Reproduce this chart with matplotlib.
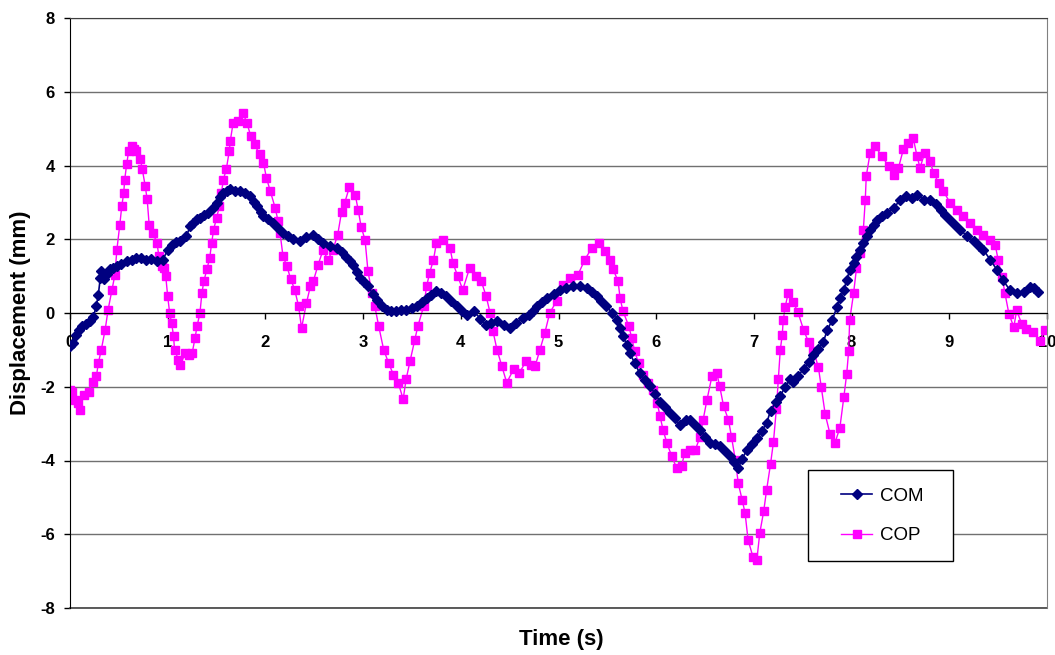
import numpy as np
import matplotlib
matplotlib.use("Agg")
import matplotlib.pyplot as plt
from matplotlib.patches import Rectangle

plt.rcParams['font.family'] = ['Liberation Sans', 'DejaVu Sans']
plt.rcParams['axes.unicode_minus'] = False

# COM trace (time in s, displacement in mm)
com_t = [0.00, 0.03, 0.06, 0.09, 0.12, 0.16, 0.20, 0.24, 0.27, 0.29, 0.31, 0.32, 0.35, 0.38, 0.41,
         0.44, 0.48, 0.52, 0.58, 0.63, 0.68, 0.73, 0.78, 0.83, 0.89, 0.95, 1.00, 1.04, 1.09, 1.13,
         1.19, 1.23, 1.26, 1.30, 1.33, 1.37, 1.41, 1.46, 1.50, 1.54, 1.57, 1.61, 1.64, 1.69, 1.74,
         1.79, 1.84, 1.88, 1.91, 1.95, 1.98, 2.03, 2.08, 2.13, 2.18, 2.23, 2.28, 2.35, 2.42, 2.49,
         2.54, 2.59, 2.66, 2.73, 2.78, 2.83, 2.87, 2.90, 2.94, 2.97, 3.01, 3.05, 3.10, 3.14, 3.19,
         3.24, 3.29, 3.34, 3.39, 3.44, 3.50, 3.55, 3.60, 3.65, 3.70, 3.75, 3.80, 3.85, 3.90, 3.96,
         4.01, 4.06, 4.13, 4.20, 4.26, 4.31, 4.37, 4.44, 4.50, 4.57, 4.64, 4.70, 4.74, 4.78, 4.83,
         4.88, 4.95, 5.02, 5.08, 5.15, 5.22, 5.29, 5.34, 5.39, 5.44, 5.49, 5.55, 5.60, 5.63, 5.66,
         5.70, 5.73, 5.78, 5.83, 5.89, 5.94, 5.99, 6.04, 6.09, 6.14, 6.19, 6.24, 6.30, 6.35, 6.40,
         6.45, 6.50, 6.55, 6.60, 6.65, 6.70, 6.76, 6.80, 6.84, 6.88, 6.93, 6.98, 7.03, 7.08, 7.13,
         7.17, 7.23, 7.27, 7.32, 7.37, 7.40, 7.45, 7.51, 7.56, 7.61, 7.66, 7.71, 7.75, 7.80, 7.85,
         7.88, 7.92, 7.95, 7.98, 8.02, 8.05, 8.09, 8.12, 8.16, 8.19, 8.23, 8.26, 8.31, 8.36, 8.43,
         8.50, 8.56, 8.62, 8.67, 8.74, 8.80, 8.86, 8.91, 8.96, 9.01, 9.06, 9.11, 9.18, 9.25, 9.30,
         9.35, 9.42, 9.49, 9.55, 9.62, 9.69, 9.76, 9.83, 9.87, 9.91]
com_v = [-0.90, -0.80, -0.60, -0.45, -0.36, -0.30, -0.22, -0.10, 0.20, 0.50, 0.95, 1.13, 0.92, 1.05, 1.18,
         1.22, 1.28, 1.33, 1.40, 1.45, 1.50, 1.48, 1.45, 1.47, 1.40, 1.45, 1.70, 1.85, 1.92, 1.95,
         2.08, 2.35, 2.45, 2.55, 2.58, 2.65, 2.72, 2.85, 2.99, 3.15, 3.26, 3.32, 3.35, 3.32, 3.30,
         3.25, 3.17, 3.02, 2.90, 2.75, 2.63, 2.55, 2.45, 2.30, 2.17, 2.08, 2.00, 1.96, 2.05, 2.12,
         2.00, 1.89, 1.82, 1.76, 1.65, 1.53, 1.42, 1.31, 1.10, 0.95, 0.83, 0.72, 0.52, 0.36, 0.20,
         0.09, 0.06, 0.05, 0.07, 0.09, 0.13, 0.18, 0.30, 0.41, 0.50, 0.59, 0.53, 0.45, 0.32, 0.18,
         0.05, -0.05, 0.05, -0.15, -0.32, -0.28, -0.23, -0.32, -0.41, -0.28, -0.14, -0.05, 0.05, 0.18, 0.30,
         0.41, 0.52, 0.63, 0.68, 0.72, 0.72, 0.68, 0.58, 0.45, 0.32, 0.18, 0.00, -0.18, -0.40, -0.63,
         -0.86, -1.09, -1.36, -1.63, -1.82, -1.99, -2.20, -2.40, -2.55, -2.71, -2.85, -3.03, -2.90, -2.90, -3.05,
         -3.17, -3.35, -3.53, -3.55, -3.62, -3.75, -3.89, -4.05, -4.21, -3.95, -3.71, -3.55, -3.39, -3.20, -2.99,
         -2.65, -2.40, -2.25, -2.00, -1.79, -1.88, -1.70, -1.52, -1.33, -1.15, -0.97, -0.79, -0.47, -0.20, 0.16,
         0.40, 0.62, 0.90, 1.16, 1.35, 1.53, 1.72, 1.89, 2.10, 2.25, 2.40, 2.53, 2.62, 2.71, 2.85,
         3.07, 3.16, 3.12, 3.21, 3.07, 3.07, 2.95, 2.80, 2.66, 2.53, 2.40, 2.25, 2.10, 1.94, 1.82,
         1.71, 1.44, 1.16, 0.89, 0.62, 0.53, 0.57, 0.71, 0.68, 0.57]

# COP trace
cop_t = [0.00, 0.02, 0.05, 0.08, 0.10, 0.14, 0.19, 0.24, 0.27, 0.29, 0.32, 0.36, 0.39, 0.43, 0.46,
         0.48, 0.51, 0.53, 0.55, 0.56, 0.58, 0.60, 0.63, 0.66, 0.68, 0.72, 0.74, 0.77, 0.79, 0.81,
         0.85, 0.89, 0.91, 0.94, 0.96, 0.98, 1.00, 1.02, 1.04, 1.06, 1.07, 1.11, 1.13, 1.18, 1.22,
         1.25, 1.28, 1.30, 1.33, 1.35, 1.37, 1.40, 1.43, 1.45, 1.47, 1.50, 1.53, 1.55, 1.57, 1.60,
         1.63, 1.64, 1.67, 1.72, 1.77, 1.81, 1.85, 1.89, 1.94, 1.98, 2.01, 2.05, 2.10, 2.13, 2.15,
         2.18, 2.22, 2.26, 2.30, 2.34, 2.37, 2.42, 2.46, 2.49, 2.54, 2.59, 2.64, 2.69, 2.74, 2.78,
         2.81, 2.86, 2.92, 2.95, 2.98, 3.02, 3.05, 3.09, 3.12, 3.16, 3.21, 3.26, 3.31, 3.36, 3.41,
         3.44, 3.48, 3.53, 3.56, 3.62, 3.65, 3.68, 3.72, 3.75, 3.82, 3.89, 3.92, 3.97, 4.02, 4.09,
         4.16, 4.21, 4.26, 4.30, 4.33, 4.37, 4.42, 4.47, 4.54, 4.60, 4.67, 4.72, 4.76, 4.81, 4.86,
         4.91, 4.98, 5.05, 5.12, 5.20, 5.27, 5.34, 5.41, 5.48, 5.53, 5.56, 5.61, 5.63, 5.66, 5.72,
         5.75, 5.78, 5.82, 5.87, 5.92, 5.97, 6.01, 6.04, 6.07, 6.11, 6.16, 6.21, 6.26, 6.29, 6.35,
         6.40, 6.45, 6.48, 6.52, 6.57, 6.62, 6.65, 6.69, 6.74, 6.77, 6.81, 6.84, 6.88, 6.91, 6.94,
         6.99, 7.03, 7.06, 7.10, 7.13, 7.17, 7.20, 7.23, 7.25, 7.27, 7.29, 7.30, 7.32, 7.35, 7.40,
         7.45, 7.51, 7.56, 7.61, 7.66, 7.69, 7.73, 7.78, 7.83, 7.88, 7.92, 7.95, 7.97, 7.98, 8.02,
         8.05, 8.09, 8.12, 8.14, 8.15, 8.19, 8.24, 8.31, 8.38, 8.43, 8.48, 8.53, 8.58, 8.63, 8.67,
         8.70, 8.75, 8.80, 8.84, 8.89, 8.94, 9.01, 9.08, 9.14, 9.21, 9.28, 9.35, 9.42, 9.47, 9.50,
         9.54, 9.57, 9.61, 9.66, 9.69, 9.74, 9.79, 9.86, 9.93, 9.98]
cop_v = [-2.10, -2.13, -2.36, -2.45, -2.63, -2.22, -2.13, -1.86, -1.72, -1.36, -1.00, -0.45, 0.09, 0.63, 1.04,
         1.72, 2.40, 2.90, 3.26, 3.62, 4.03, 4.39, 4.53, 4.45, 4.39, 4.17, 3.90, 3.44, 3.08, 2.40,
         2.17, 1.90, 1.54, 1.27, 1.22, 1.00, 0.45, 0.00, -0.27, -0.63, -1.00, -1.27, -1.40, -1.09, -1.15,
         -1.09, -0.68, -0.36, 0.00, 0.54, 0.86, 1.18, 1.49, 1.90, 2.26, 2.58, 2.90, 3.26, 3.62, 3.90,
         4.39, 4.66, 5.16, 5.21, 5.43, 5.16, 4.80, 4.57, 4.30, 4.08, 3.67, 3.31, 2.85, 2.49, 2.17,
         1.54, 1.27, 0.91, 0.63, 0.18, -0.41, 0.27, 0.72, 0.86, 1.31, 1.71, 1.44, 1.71, 2.12, 2.75,
         2.97, 3.42, 3.20, 2.79, 2.34, 1.98, 1.13, 0.54, 0.18, -0.36, -0.99, -1.35, -1.67, -1.89, -2.34,
         -1.80, -1.31, -0.72, -0.36, 0.18, 0.72, 1.08, 1.44, 1.89, 1.98, 1.76, 1.35, 0.99, 0.63, 1.22,
         0.99, 0.86, 0.45, 0.00, -0.50, -0.99, -1.44, -1.89, -1.53, -1.62, -1.30, -1.40, -1.45, -1.00, -0.54,
         0.00, 0.32, 0.77, 0.95, 1.04, 1.45, 1.76, 1.90, 1.67, 1.45, 1.18, 0.86, 0.41, 0.05, -0.36,
         -0.68, -1.04, -1.36, -1.67, -1.90, -2.08, -2.44, -2.80, -3.17, -3.53, -3.89, -4.21, -4.16, -3.80, -3.71,
         -3.71, -3.35, -2.90, -2.35, -1.72, -1.63, -1.99, -2.53, -2.90, -3.35, -3.98, -4.62, -5.07, -5.43, -6.15,
         -6.61, -6.70, -5.97, -5.38, -4.80, -4.10, -3.50, -2.60, -1.80, -1.00, -0.60, -0.20, 0.16, 0.53, 0.30,
         0.03, -0.47, -0.79, -1.02, -1.47, -2.02, -2.75, -3.29, -3.52, -3.11, -2.29, -1.65, -1.02, -0.20, 0.53,
         1.21, 1.62, 2.25, 3.07, 3.71, 4.35, 4.53, 4.25, 3.98, 3.75, 3.94, 4.44, 4.62, 4.75, 4.25,
         3.94, 4.35, 4.12, 3.80, 3.53, 3.30, 2.98, 2.80, 2.62, 2.44, 2.25, 2.12, 1.98, 1.85, 1.44,
         0.98, 0.53, -0.02, -0.38, 0.07, -0.29, -0.43, -0.52, -0.75, -0.47]

x_ticks = list(range(0, 11))
y_ticks = list(range(-8, 9, 2))

W, H = 1055, 655
fig = plt.figure(figsize=(W / 100, H / 100), dpi=100)
ax = fig.add_axes([70 / W, (H - 608) / H, (1047 - 70) / W, (608 - 18) / H])

ax.plot(com_t, com_v, color='#000080', lw=1.2, marker='D', ms=5, mec='#000080', mfc='#000080', label='COM', zorder=3)
ax.plot(cop_t, cop_v, color='#FF00FF', lw=1, marker='s', ms=6, mec='#FF00FF', mfc='#FF00FF', label='COP', zorder=2)

ax.set_xlim(0, 10)
ax.set_ylim(-8, 8)
ax.set_xticks(x_ticks)
ax.set_yticks(y_ticks)
ax.yaxis.grid(True, color='#707070', lw=1)
ax.set_axisbelow(True)
# plot-area border at the bottom (x axis itself sits at y = 0)
ax.axhline(-8, color='#404040', lw=1.2, clip_on=False, zorder=1)

ax.spines['bottom'].set_position(('data', 0))
ax.spines['bottom'].set_color('black')
ax.spines['left'].set_color('black')
ax.spines['top'].set_color('#404040')
ax.spines['right'].set_color('#808080')

ax.tick_params(axis='x', direction='out', length=4, width=1, pad=12, labelsize=12)
ax.tick_params(axis='y', direction='out', length=4, width=1, pad=7, labelsize=12)
for lab in ax.get_xticklabels() + ax.get_yticklabels():
    lab.set_fontweight('bold')

ax.set_xlabel('Time (s)', fontsize=16, fontweight='bold')
ax.xaxis.label.set_va('center')
ax.xaxis.set_label_coords((561 - 70) / 977, (608 - 640) / 590)
ax.set_ylabel('Displacement (mm)', fontsize=16, fontweight='bold')
ax.yaxis.label.set_va('center')
ax.yaxis.set_label_coords((21 - 70) / 977, (608 - 313) / 590)

# legend box
fig.patches.append(Rectangle((808 / W, (H - 561) / H), 145 / W, 91 / H, transform=fig.transFigure,
                             facecolor='white', edgecolor='black', lw=1, zorder=5))
leg = fig.legend(loc='center', bbox_to_anchor=(882 / W, (H - 516) / H), frameon=False,
                 fontsize=13.5, handlelength=1.7, handletextpad=0.4, labelspacing=1.2)
leg.set_zorder(6)

fig.savefig('out.png', dpi=100)
